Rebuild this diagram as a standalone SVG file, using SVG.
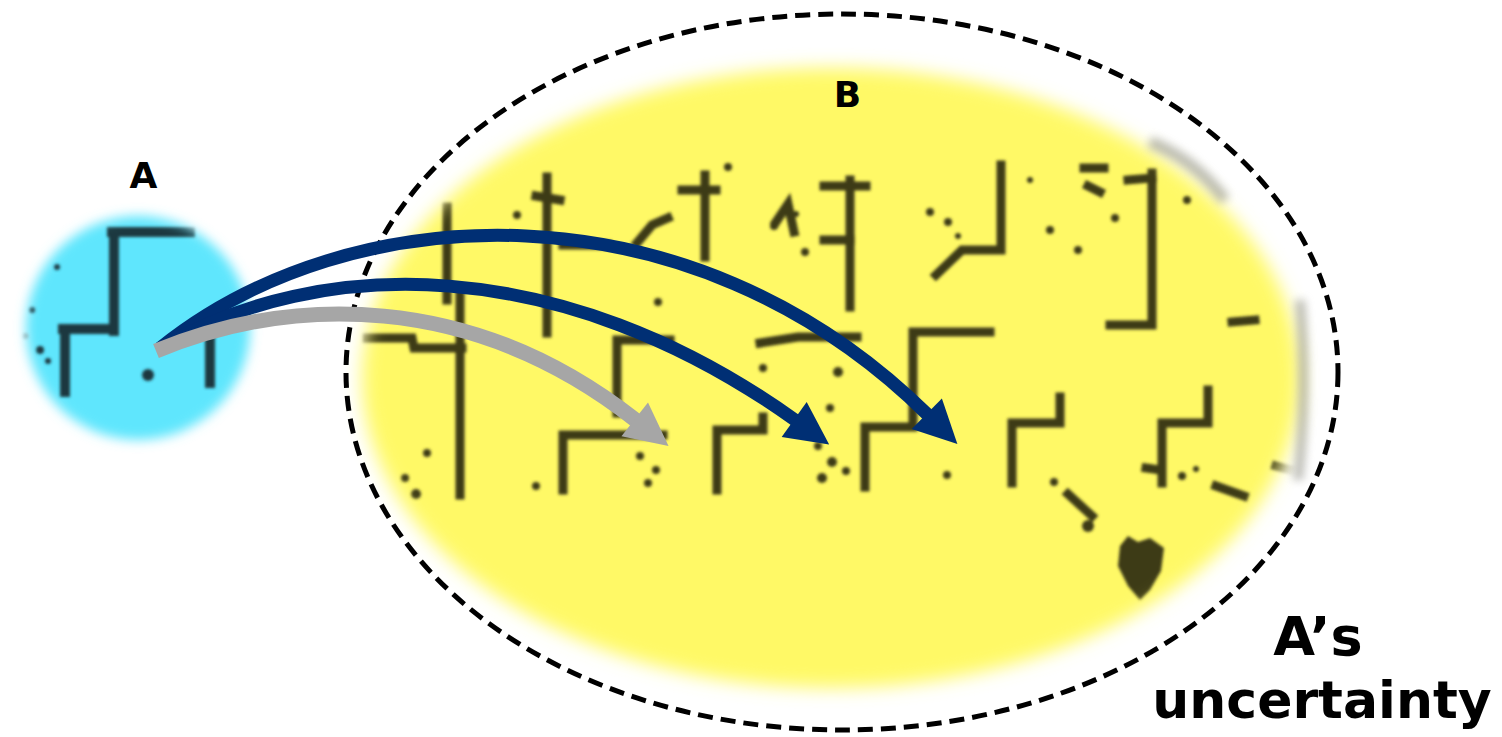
<svg xmlns="http://www.w3.org/2000/svg" width="1502" height="737" viewBox="0 0 1502 737">
  <style>
    .label { font-family: "DejaVu Sans", Verdana, sans-serif; font-weight: bold; fill: #000; text-anchor: middle; }
    .wall-b { fill: none; stroke: #3d3a18; stroke-width: 9; stroke-linecap: square; stroke-linejoin: miter; }
    .dot-b { fill: #3d3a18; }
    .wall-a { fill: none; stroke: #1a3840; stroke-width: 10; stroke-linecap: square; stroke-linejoin: miter; }
    .dot-a { fill: #1a3840; }
    .link { fill: none; stroke-linecap: butt; }
    .navy { stroke: #002f74; stroke-width: 13; marker-end: url(#head-navy); }
    .gray { stroke: #a6a6a6; stroke-width: 15; marker-end: url(#head-gray); }
    .bound { fill: none; stroke: #000; stroke-width: 5; stroke-dasharray: 15 8; }
  </style>
  <defs>
    <filter id="soft-b" x="-10%" y="-10%" width="120%" height="120%">
      <feGaussianBlur stdDeviation="9"/>
    </filter>
    <filter id="soft-a" x="-20%" y="-20%" width="140%" height="140%">
      <feGaussianBlur stdDeviation="6"/>
    </filter>
    <filter id="ink" x="-5%" y="-5%" width="110%" height="110%">
      <feGaussianBlur stdDeviation="1.6"/>
    </filter>
    <filter id="haze" x="-50%" y="-50%" width="200%" height="200%">
      <feGaussianBlur stdDeviation="4"/>
    </filter>
    <mask id="mask-b" maskUnits="userSpaceOnUse" x="0" y="0" width="1502" height="737">
      <ellipse cx="831" cy="378" rx="469" ry="310" fill="#fff" filter="url(#soft-b)"/>
    </mask>
    <mask id="mask-a" maskUnits="userSpaceOnUse" x="0" y="0" width="1502" height="737">
      <circle cx="138" cy="328" r="112" fill="#fff" filter="url(#soft-a)"/>
    </mask>
    <marker id="head-navy" markerUnits="userSpaceOnUse" markerWidth="46" markerHeight="46" viewBox="0 0 46 46" refX="1" refY="21.5" orient="auto" overflow="visible">
      <path d="M0,0 L43,21.5 L0,43 Z" fill="#002f74"/>
    </marker>
    <marker id="head-gray" markerUnits="userSpaceOnUse" markerWidth="46" markerHeight="46" viewBox="0 0 46 46" refX="1" refY="21.5" orient="auto" overflow="visible">
      <path d="M0,0 L43,21.5 L0,43 Z" fill="#a6a6a6"/>
    </marker>
  </defs>

  <rect width="1502" height="737" fill="#fff"/>

  <!-- Region B: yellow map patch -->
  <g id="node-B">
    <ellipse cx="831" cy="378" rx="469" ry="310" fill="#fff966" filter="url(#soft-b)"/>
    <!-- faded border of the map image -->
    <g filter="url(#haze)" fill="none" stroke="#8a8a80" opacity="0.55">
      <path d="M1300,300 Q1308,390 1298,480" stroke-width="10"/>
      <path d="M1150,142 Q1195,160 1225,200" stroke-width="12"/>
    </g>
    <g mask="url(#mask-b)">
      <g filter="url(#ink)">
        <!-- left block -->
        <path class="wall-b" d="M447,207 L447,300"/>
        <path class="wall-b" d="M460,293 L460,495"/>
        <path class="wall-b" d="M367,338 L412,338 L414,348 L462,348"/>
        <circle class="dot-b" cx="427" cy="453" r="4"/>
        <circle class="dot-b" cx="405" cy="478" r="4"/>
        <circle class="dot-b" cx="416" cy="494" r="5"/>
        <!-- "f" wall -->
        <path class="wall-b" d="M547,177 L547,333"/>
        <path class="wall-b" d="M536,196 L560,200" stroke-width="12"/>
        <path class="wall-b" d="M563,245 L607,245"/>
        <circle class="dot-b" cx="517" cy="215" r="4"/>
        <circle class="dot-b" cx="658" cy="302" r="4"/>
        <path class="wall-b" d="M670,340 L617,340 L617,413"/>
        <path class="wall-b" d="M663,435 L563,435 L563,490"/>
        <circle class="dot-b" cx="536" cy="486" r="4"/>
        <circle class="dot-b" cx="640" cy="456" r="4"/>
        <circle class="dot-b" cx="656" cy="470" r="4"/>
        <circle class="dot-b" cx="648" cy="483" r="4"/>
        <!-- upper middle -->
        <path class="wall-b" d="M637,243 L652,225 L668,218"/>
        <path class="wall-b" d="M705,175 L705,257"/>
        <path class="wall-b" d="M682,190 L716,190"/>
        <circle class="dot-b" cx="728" cy="167" r="4"/>
        <path class="wall-b" d="M776,222 L788,204 L794,232"/>
        <circle class="dot-b" cx="774" cy="226" r="4"/>
        <circle class="dot-b" cx="796" cy="214" r="3"/>
        <circle class="dot-b" cx="805" cy="252" r="4"/>
        <path class="wall-b" d="M850,180 L850,307"/>
        <path class="wall-b" d="M824,186 L866,186" stroke-width="13"/>
        <path class="wall-b" d="M824,240 L850,240"/>
        <path class="wall-b" d="M760,343 L798,337 L857,337"/>
        <circle class="dot-b" cx="763" cy="368" r="4"/>
        <circle class="dot-b" cx="838" cy="372" r="5"/>
        <path class="wall-b" d="M990,332 L913,332 L913,427 L865,427 L865,487"/>
        <path class="wall-b" d="M763,417 L763,430 L717,430 L717,490"/>
        <circle class="dot-b" cx="830" cy="408" r="4"/>
        <circle class="dot-b" cx="818" cy="446" r="4"/>
        <circle class="dot-b" cx="832" cy="462" r="5"/>
        <circle class="dot-b" cx="846" cy="471" r="4"/>
        <circle class="dot-b" cx="822" cy="478" r="5"/>
        <circle class="dot-b" cx="947" cy="475" r="4"/>
        <!-- "z" cluster -->
        <path class="wall-b" d="M1001,165 L1001,250 L962,250 L936,275"/>
        <circle class="dot-b" cx="930" cy="212" r="4"/>
        <circle class="dot-b" cx="948" cy="222" r="4"/>
        <circle class="dot-b" cx="958" cy="236" r="3"/>
        <circle class="dot-b" cx="1030" cy="180" r="3"/>
        <circle class="dot-b" cx="1050" cy="230" r="4"/>
        <circle class="dot-b" cx="1078" cy="250" r="4"/>
        <circle class="dot-b" cx="1115" cy="218" r="4"/>
        <!-- right block -->
        <path class="wall-b" d="M1084,168 L1104,168 M1088,186 L1100,192" stroke-width="15"/>
        <path class="wall-b" d="M1128,180 L1152,178" stroke-width="11"/>
        <path class="wall-b" d="M1152,173 L1152,325 L1110,325"/>
        <circle class="dot-b" cx="1187" cy="200" r="4"/>
        <path class="wall-b" d="M1232,322 L1255,320"/>
        <path class="wall-b" d="M1060,397 L1060,423 L1012,423 L1012,483"/>
        <path class="wall-b" d="M1208,390 L1208,423 L1162,423 L1162,483"/>
        <path class="wall-b" d="M1146,468 L1160,470"/>
        <circle class="dot-b" cx="1182" cy="476" r="4"/>
        <circle class="dot-b" cx="1196" cy="469" r="3"/>
        <path class="wall-b" d="M1216,486 L1244,496"/>
        <path class="wall-b" d="M1276,466 L1290,470"/>
        <circle class="dot-b" cx="1054" cy="482" r="4"/>
        <path class="wall-b" d="M1068,494 L1092,516" stroke-width="15"/>
        <circle class="dot-b" cx="1088" cy="526" r="6"/>
        <path class="dot-b" d="M1120,546 L1128,536 L1138,542 L1150,538 L1164,548 L1161,571 L1150,590 L1140,600 L1128,586 L1118,566 Z"/>
      </g>
    </g>
    <text class="label" x="847.5" y="107" font-size="36">B</text>
  </g>

  <!-- Region A: cyan map patch -->
  <g id="node-A">
    <circle cx="138" cy="328" r="112" fill="#5ee6fd" filter="url(#soft-a)"/>
    <g mask="url(#mask-a)">
      <g filter="url(#ink)">
        <path class="wall-a" d="M112,232 L190,232"/>
        <path class="wall-a" d="M114,232 L114,331"/>
        <path class="wall-a" d="M63,329 L114,329"/>
        <path class="wall-a" d="M65,329 L65,392"/>
        <path class="wall-a" d="M210,318 L210,383"/>
        <circle class="dot-a" cx="148" cy="375" r="6"/>
        <circle class="dot-a" cx="57" cy="267" r="3"/>
        <circle class="dot-a" cx="32" cy="310" r="3"/>
        <circle class="dot-a" cx="40" cy="350" r="4"/>
        <circle class="dot-a" cx="48" cy="361" r="3"/>
        <circle cx="25" cy="336" r="3" fill="#7a8a8c"/>
      </g>
    </g>
    <text class="label" x="143.5" y="188" font-size="36">A</text>
  </g>

  <!-- A's uncertainty boundary -->
  <g id="uncertainty">
    <ellipse class="bound" cx="842" cy="372" rx="496" ry="358"/>
    <text class="label" x="1318" y="655" font-size="54">A’s</text>
    <text class="label" x="1322" y="718" font-size="52">uncertainty</text>
  </g>

  <!-- Connectors from A into B -->
  <g id="connectors">
    <path class="link navy" d="M160,348 C350,195 690,180 927.5,414.5"/>
    <path class="link navy" d="M160,348 C320,255 560,252 795,420"/>
    <path class="link gray" d="M156,351 C290,296 470,290 635.5,420"/>
  </g>
</svg>
